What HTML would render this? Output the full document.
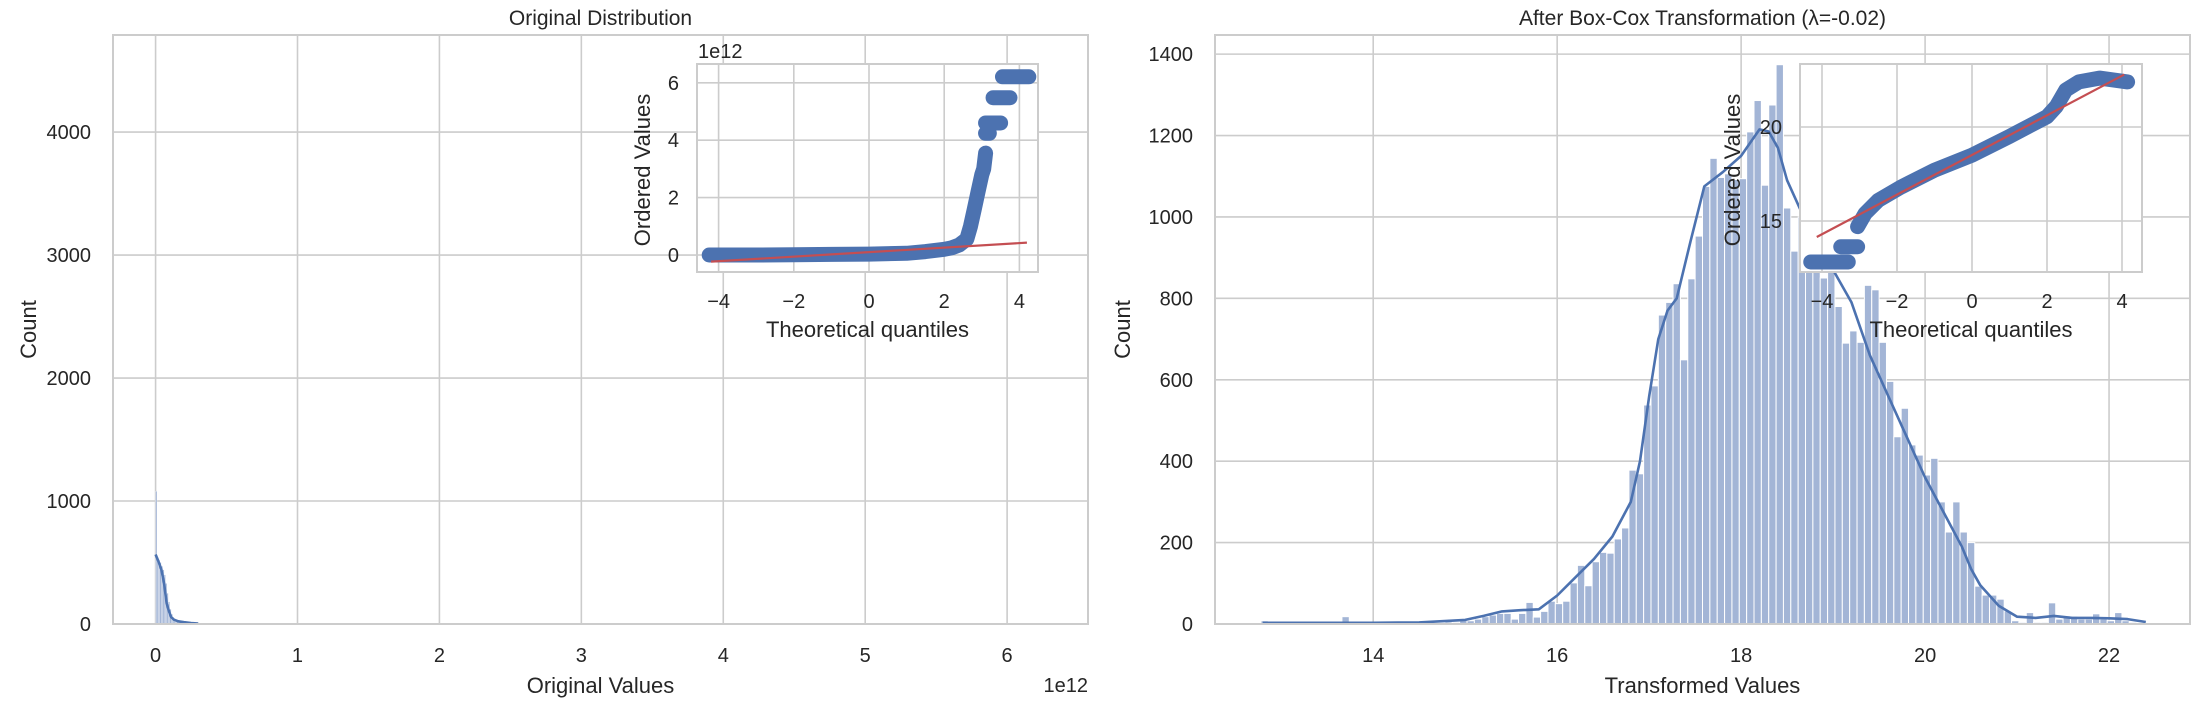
<!DOCTYPE html>
<html><head><meta charset="utf-8"><title>Box-Cox</title>
<style>
html,body{margin:0;padding:0;background:#fff;}
svg{display:block;font-family:"Liberation Sans",Arial,sans-serif;}
text{fill:#262626;}
</style></head>
<body>
<svg id="chart" width="2212" height="706" viewBox="0 0 2212 706" xmlns="http://www.w3.org/2000/svg">
<g id="L"></g>
<g id="R"></g>
</svg>
<script>
// ---------- Left histogram data ----------
const leftBinStart = 0;            // 1e12 units
const leftBinWidth = 0.01;
const leftCounts = [1080,540,520,500,470,440,400,330,250,180,120,80,55,40,30,22,18,15,12,10,8,6,5,4,3,3,2,2,1,1];
const leftKdeX = [0,0.02,0.04,0.06,0.078,0.095,0.11,0.13,0.16,0.2,0.25,0.3];
const leftKdeY = [565,510,445,330,170,100,55,35,22,15,8,3];
const leftXTicks = [0,1,2,3,4,5,6];
const leftYTicks = [0,1000,2000,3000,4000];
// left Q-Q
const qqLTicksX = [-4,-2,0,2,4];
const qqLTicksY = [0,2,4,6];
const qqLCurveQ = [-4.25,-3,-2,-1,0,1,1.5,2.0,2.2,2.4,2.5,2.6,2.7,2.8,2.9,3.0,3.05,3.1];
const qqLCurveV = [0,0,0.01,0.02,0.03,0.06,0.12,0.2,0.25,0.35,0.45,0.55,1.0,1.6,2.2,2.8,3.0,3.55];
const qqLClusterQ0 = [3.1,3.1,3.3,3.55];
const qqLClusterQ1 = [3.2,3.5,3.75,4.25];
const qqLClusterV = [4.24,4.6,5.48,6.21];
const qqLLineQ = [-4.2,4.2];
const qqLLineV = [-0.23,0.43];

// ---------- Right histogram data ----------
const rightBinStart = 12.78;
const rightBinWidth = 0.08;
const rightCounts = [8,6,0,2,0,0,1,1,0,3,5,18,4,2,1,3,5,2,4,1,2,1,6,3,2,5,4,10,8,12,18,22,26,26,12,26,53,17,31,56,50,56,101,144,94,153,176,174,209,236,378,369,538,585,759,790,836,649,848,953,1075,1144,1097,1106,1092,1094,1209,1286,1078,1275,1374,1022,916,1000,880,960,850,880,780,690,720,692,832,821,692,596,460,530,440,415,366,407,300,226,300,226,200,93,71,71,61,32,8,4,28,4,4,52,12,20,19,12,12,25,12,8,28,8,4,0];
const rightKdeX = [12.8,13.5,14,14.5,15,15.2,15.4,15.6,15.8,16,16.2,16.4,16.6,16.8,16.9,17,17.1,17.2,17.3,17.45,17.6,17.8,18,18.2,18.3,18.4,18.5,18.7,19,19.2,19.4,19.6,19.8,20,20.2,20.4,20.5,20.6,20.8,21,21.2,21.4,21.6,21.8,22,22.2,22.4];
const rightKdeY = [3,3,3,4,10,20,31,34,36,70,115,160,215,300,400,560,700,770,800,940,1075,1110,1150,1215,1210,1170,1090,990,870,790,660,560,460,360,275,190,135,95,45,18,15,20,15,15,14,12,5];
const rightXTicks = [14,16,18,20,22];
const rightYTicks = [0,200,400,600,800,1000,1200,1400];
// right Q-Q
const qqRTicksX = [-4,-2,0,2,4];
const qqRTicksY = [15,20];
const qqRCurveQ = [-3.05,-2.85,-2.5,-1.9,-1.0,0,1.0,2.0,2.25,2.5,2.85,3.4,4.15];
const qqRCurveV = [14.7,15.4,16.1,16.8,17.7,18.5,19.5,20.55,21.1,21.97,22.4,22.6,22.4];
const qqRClusterQ0 = [-4.3,-3.5];
const qqRClusterQ1 = [-3.3,-3.05];
const qqRClusterV = [12.82,13.63];
const qqRLineQ = [-4.14,4.06];
const qqRLineV = [14.15,22.79];

const NS = 'http://www.w3.org/2000/svg';
function mk(parent, tag, attrs, txt){
  const e = document.createElementNS(NS, tag);
  for (const k in attrs) e.setAttribute(k, attrs[k]);
  if (txt !== undefined) e.textContent = txt;
  parent.appendChild(e);
  return e;
}
function lin(d0,d1,r0,r1){ return v => r0 + (v-d0)*(r1-r0)/(d1-d0); }
const GRID = '#cccccc', BLUE = '#4c72b0', BAR = '#a3b5d6', RED = '#c44e52';

function drawPanel(g, o){
  const sx = lin(o.x0, o.x1, o.L, o.Rr);
  const sy = lin(0, o.ymax, o.B, o.T);
  let t;
  t = mk(g,'rect',{x:o.L,y:o.T,width:o.Rr-o.L,height:o.B-o.T,fill:'#fff'});
   
  o.xt.forEach(v=>{
    t = mk(g,'line',{x1:sx(v),x2:sx(v),y1:o.T,y2:o.B,stroke:GRID,'stroke-width':1.6});
     
    t = mk(g,'text',{x:sx(v),y:o.B+38,'font-size':20,'text-anchor':'middle'}, String(v));
     
  });
  o.yt.forEach(v=>{
    t = mk(g,'line',{x1:o.L,x2:o.Rr,y1:sy(v),y2:sy(v),stroke:GRID,'stroke-width':1.6});
     
    t = mk(g,'text',{x:o.L-22,y:sy(v)+7,'font-size':20,'text-anchor':'end'}, String(v));
     
  });
  o.counts.forEach((c,i)=>{
    const a = o.bs + i*o.bw, b = a + o.bw;
    const x = sx(a), w = Math.max(sx(b)-x, 1);
    t = mk(g,'rect',{x:x,y:sy(c),width:w,height:o.B-sy(c),fill:BAR,stroke:'#fff','stroke-width':o.edge});
     
  });
  let d = '';
  o.kx.forEach((v,i)=>{ d += (i?'L':'M') + sx(v).toFixed(1) + ',' + sy(o.ky[i]).toFixed(1); });
  t = mk(g,'path',{d:d,fill:'none',stroke:BLUE,'stroke-width':2.6,'stroke-linejoin':'round'});
   
  t = mk(g,'rect',{x:o.L,y:o.T,width:o.Rr-o.L,height:o.B-o.T,fill:'none',stroke:GRID,'stroke-width':2});
   
  const cx = (o.L+o.Rr)/2;
  t = mk(g,'text',{x:cx,y:25,'font-size':21,'text-anchor':'middle'}, o.title);
   
  t = mk(g,'text',{x:cx,y:693,'font-size':22,'text-anchor':'middle'}, o.xlabel);
   
  t = mk(g,'text',{x:0,y:0,'font-size':22,'text-anchor':'middle',transform:'translate('+o.ylx+','+((o.T+o.B)/2)+') rotate(-90)'}, 'Count');
   
}

function drawQQ(g, o){
  const sx = lin(0, 1, o.q0px, o.q0px + o.pxq);
  const sy = lin(o.v0, o.v0+1, o.v0px, o.v0px - o.pxv);
  let t;
  t = mk(g,'rect',{x:o.L,y:o.T,width:o.Rr-o.L,height:o.B-o.T,fill:'#fff'});
   
  o.xt.forEach(v=>{
    t = mk(g,'line',{x1:sx(v),x2:sx(v),y1:o.T,y2:o.B,stroke:GRID,'stroke-width':1.6});
     
    t = mk(g,'text',{x:sx(v),y:o.B+36,'font-size':20,'text-anchor':'middle'}, v<0?('\u2212'+(-v)):String(v));
     
  });
  o.yt.forEach(v=>{
    t = mk(g,'line',{x1:o.L,x2:o.Rr,y1:sy(v),y2:sy(v),stroke:GRID,'stroke-width':1.6});
     
    t = mk(g,'text',{x:o.L-18,y:sy(v)+7,'font-size':20,'text-anchor':'end'}, String(v));
     
  });
  let d = '';
  o.cq.forEach((q,i)=>{ d += (i?'L':'M') + sx(q).toFixed(1)+','+sy(o.cv[i]).toFixed(1); });
  t = mk(g,'path',{d:d,fill:'none',stroke:BLUE,'stroke-width':15,'stroke-linecap':'round','stroke-linejoin':'round'});
   
  o.k0.forEach((q,i)=>{
    t = mk(g,'line',{x1:sx(q),x2:sx(o.k1[i]),y1:sy(o.kv[i]),y2:sy(o.kv[i]),stroke:BLUE,'stroke-width':15,'stroke-linecap':'round'});
     
  });
  t = mk(g,'line',{x1:sx(o.lq[0]),x2:sx(o.lq[1]),y1:sy(o.lv[0]),y2:sy(o.lv[1]),stroke:RED,'stroke-width':2.2});
   
  t = mk(g,'rect',{x:o.L,y:o.T,width:o.Rr-o.L,height:o.B-o.T,fill:'none',stroke:GRID,'stroke-width':2});
   
  t = mk(g,'text',{x:(o.L+o.Rr)/2,y:337,'font-size':22,'text-anchor':'middle'}, 'Theoretical quantiles');
   
  t = mk(g,'text',{x:0,y:0,'font-size':22,'text-anchor':'middle',transform:'translate('+o.ylx+',170) rotate(-90)'}, 'Ordered Values');
   
}

const gL = document.getElementById('L'), gR = document.getElementById('R');
drawPanel(gL,{L:113,Rr:1088,T:35,B:624,x0:-0.3,x1:6.57,ymax:4789,bs:leftBinStart,bw:leftBinWidth,counts:leftCounts,kx:leftKdeX,ky:leftKdeY,xt:leftXTicks,yt:leftYTicks,edge:0.3,title:'Original Distribution',xlabel:'Original Values',ylx:36});
let off = mk(gL,'text',{x:1088,y:692,'font-size':20,'text-anchor':'end'},'1e12');


drawQQ(gL,{L:697,Rr:1038,T:64,B:272,q0px:869,pxq:37.6,v0:0,v0px:255,pxv:28.7,xt:qqLTicksX,yt:qqLTicksY,cq:qqLCurveQ,cv:qqLCurveV,k0:qqLClusterQ0,k1:qqLClusterQ1,kv:qqLClusterV,lq:qqLLineQ,lv:qqLLineV,ylx:650});
let off2 = mk(gL,'text',{x:698,y:58,'font-size':20,'text-anchor':'start'},'1e12');



drawPanel(gR,{L:1215,Rr:2190,T:35,B:624,x0:12.28,x1:22.88,ymax:1447,bs:rightBinStart,bw:rightBinWidth,counts:rightCounts,kx:rightKdeX,ky:rightKdeY,xt:rightXTicks,yt:rightYTicks,edge:1,title:'After Box-Cox Transformation (\u03bb=-0.02)',xlabel:'Transformed Values',ylx:1130});
drawQQ(gR,{L:1800,Rr:2142,T:64,B:272,q0px:1972,pxq:37.5,v0:20,v0px:127,pxv:18.8,xt:qqRTicksX,yt:qqRTicksY,cq:qqRCurveQ,cv:qqRCurveV,k0:qqRClusterQ0,k1:qqRClusterQ1,kv:qqRClusterV,lq:qqRLineQ,lv:qqRLineV,ylx:1740});
</script>
</body></html>
